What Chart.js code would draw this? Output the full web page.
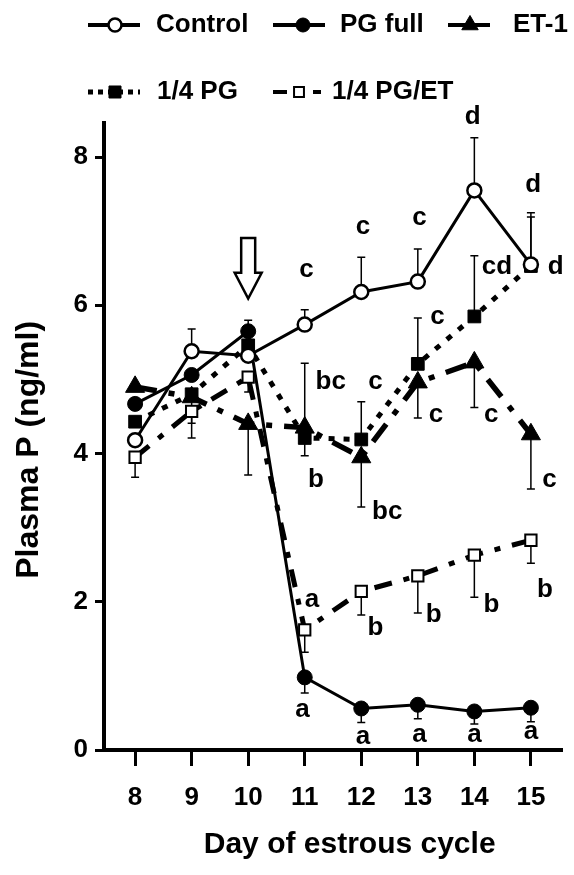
<!DOCTYPE html>
<html>
<head>
<meta charset="utf-8">
<script src="https://cdn.jsdelivr.net/npm/chart.js@4.4.1/dist/chart.umd.min.js"></script>
<style>
  body { margin: 0; background: #fff; }
  canvas { display: block; }
</style>
</head>
<body>
<canvas id="plasmaChart" width="574" height="875"></canvas>
<script>
const days = [8, 9, 10, 11, 12, 13, 14, 15];
const xTicks = [8, 9, 10, 11, 12, 13, 14, 15];
const yTicks = [0, 2, 4, 6, 8];

const control = [4.18, 5.38, 5.32, 5.74, 6.18, 6.32, 7.55, 6.55];
const pgFull = [4.67, 5.06, 5.65, 0.98, 0.56, 0.61, 0.52, 0.57];
const et1 = [4.90, 4.76, 4.40, 4.35, 3.95, 4.96, 5.23, 4.26];
const quarterPG = [4.43, 4.80, 5.46, 4.21, 4.19, 5.21, 5.85, 6.53];
const quarterPGET = [3.95, 4.57, 5.03, 1.62, 2.14, 2.35, 2.63, 2.83];

// ends of the error bars (null = no bar visible)
const controlErrHigh = [null, 5.68, null, 5.94, 6.65, 6.76, 8.26, 7.19];
const pgFullErrHigh = [null, null, 5.80, null, null, null, null, null];
const pgFullErrLow = [null, null, null, 0.77, 0.37, 0.42, 0.35, 0.38];
const et1ErrHigh = [null, null, null, 5.22, null, null, null, null];
const et1ErrLow = [null, null, 3.71, null, 3.28, 4.48, 4.62, 3.52];
const quarterPGErrHigh = [null, null, null, null, 4.70, 5.83, 6.67, 7.25];
const quarterPGErrLow = [null, 4.41, null, 3.97, null, null, null, null];
const quarterPGETErrLow = [3.68, 4.21, 4.83, 1.32, 1.82, 1.85, 2.06, 2.52];

// significance letters: [day, value, text]
const sigLetters = [
  [13.97, 8.54, "d"], [15.04, 7.62, "d"],
  [11.03, 6.48, "c"], [12.03, 7.06, "c"], [13.03, 7.18, "c"],
  [14.40, 6.52, "cd"], [15.44, 6.52, "d"], [13.35, 5.84, "c"],
  [11.46, 4.97, "bc"], [12.25, 4.97, "c"], [13.32, 4.52, "c"], [14.30, 4.52, "c"],
  [15.33, 3.64, "c"], [11.20, 3.64, "b"], [12.46, 3.21, "bc"],
  [11.13, 2.02, "a"], [12.25, 1.65, "b"], [13.28, 1.82, "b"], [14.30, 1.96, "b"], [15.25, 2.16, "b"],
  [10.96, 0.54, "a"], [12.03, 0.18, "a"], [13.03, 0.20, "a"], [14.00, 0.20, "a"], [15.00, 0.24, "a"]
];

const arrowDay = 10;
const arrowTop = 6.91;
const arrowHeadBase = 6.44;
const arrowTip = 6.09;

const FONT = "'Liberation Sans', Arial, sans-serif";

function pts(values) {
  return days.map((d, i) => ({ x: d, y: values[i] }));
}

const datasets = [
  {
    label: "Control", data: pts(control),
    borderColor: "#000", borderWidth: 3,
    pointStyle: "circle", pointRadius: 7, pointBackgroundColor: "#fff", pointBorderColor: "#000", pointBorderWidth: 2.5,
    errHigh: controlErrHigh, errLow: []
  },
  {
    label: "PG full", data: pts(pgFull),
    borderColor: "#000", borderWidth: 3,
    pointStyle: "circle", pointRadius: 7.5, pointBackgroundColor: "#000", pointBorderColor: "#000", pointBorderWidth: 1,
    errHigh: pgFullErrHigh, errLow: pgFullErrLow
  },
  {
    label: "ET-1", data: pts(et1),
    borderColor: "#000", borderWidth: 5.5, borderDash: [22, 12, 6, 12],
    pointStyle: "triangle", pointRadius: 11, pointBackgroundColor: "#000", pointBorderColor: "#000", pointBorderWidth: 1,
    errHigh: et1ErrHigh, errLow: et1ErrLow
  },
  {
    label: "1/4 PG", data: pts(quarterPG),
    borderColor: "#000", borderWidth: 5, borderDash: [6, 9],
    pointStyle: "rect", pointRadius: 9, pointBackgroundColor: "#000", pointBorderColor: "#000", pointBorderWidth: 1,
    errHigh: quarterPGErrHigh, errLow: quarterPGErrLow
  },
  {
    label: "1/4 PG/ET", data: pts(quarterPGET),
    borderColor: "#000", borderWidth: 5, borderDash: [18, 12, 6, 12],
    pointStyle: "rect", pointRadius: 8, pointBackgroundColor: "#fff", pointBorderColor: "#000", pointBorderWidth: 2,
    errHigh: [], errLow: quarterPGETErrLow
  }
];

const errorBars = {
  id: "errorBars",
  beforeDatasetsDraw(chart) {
    const { ctx, scales: { x, y } } = chart;
    ctx.save();
    ctx.strokeStyle = "#000";
    ctx.lineWidth = 1.5;
    chart.data.datasets.forEach(ds => {
      [ds.errHigh, ds.errLow].forEach(ends => {
        ends.forEach((end, i) => {
          if (end == null) return;
          const px = x.getPixelForValue(ds.data[i].x);
          const py0 = y.getPixelForValue(ds.data[i].y);
          const py1 = y.getPixelForValue(end);
          ctx.beginPath();
          ctx.moveTo(px, py0);
          ctx.lineTo(px, py1);
          ctx.moveTo(px - 4, py1);
          ctx.lineTo(px + 4, py1);
          ctx.stroke();
        });
      });
    });
    ctx.restore();
  }
};

const annotations = {
  id: "annotations",
  afterDraw(chart) {
    const { ctx, scales: { x, y } } = chart;
    ctx.save();
    ctx.fillStyle = "#000";
    ctx.font = "bold 26px " + FONT;
    ctx.textAlign = "center";
    ctx.textBaseline = "middle";
    sigLetters.forEach(([d, v, t]) => {
      ctx.fillText(t, x.getPixelForValue(d), y.getPixelForValue(v));
    });

    // open arrow above day 10
    const ax = x.getPixelForValue(arrowDay);
    const yTop = y.getPixelForValue(arrowTop);
    const yBase = y.getPixelForValue(arrowHeadBase);
    const yTip = y.getPixelForValue(arrowTip);
    ctx.beginPath();
    ctx.moveTo(ax - 7, yTop);
    ctx.lineTo(ax + 7, yTop);
    ctx.lineTo(ax + 7, yBase);
    ctx.lineTo(ax + 13.5, yBase);
    ctx.lineTo(ax, yTip);
    ctx.lineTo(ax - 13.5, yBase);
    ctx.lineTo(ax - 7, yBase);
    ctx.closePath();
    ctx.fillStyle = "#fff";
    ctx.fill();
    ctx.lineWidth = 2.5;
    ctx.strokeStyle = "#000";
    ctx.stroke();
    ctx.restore();
  }
};

const legendItems = [
  { ds: 0, segs: [[88, 140]], mx: 115, y: 25, tx: 156, r: 6.5 },
  { ds: 1, segs: [[273, 325]], mx: 303, y: 25, tx: 340, r: 7 },
  { ds: 2, segs: [[448, 490]], mx: 470, y: 25, tx: 513, r: 9.5 },
  { ds: 3, segs: [[88, 140]], mx: 115, y: 92, tx: 157, r: 8.5 },
  { ds: 4, segs: [[273, 287], [313, 321]], mx: 299, y: 92, tx: 332, r: 7 }
];

const customLegend = {
  id: "customLegend",
  afterDraw(chart) {
    const { ctx } = chart;
    ctx.save();
    legendItems.forEach(item => {
      const ds = chart.data.datasets[item.ds];
      ctx.strokeStyle = "#000";
      ctx.lineWidth = item.ds === 3 ? 5 : 4;
      ctx.setLineDash(item.ds === 3 ? [5, 5] : []);
      item.segs.forEach(([a, b]) => {
        ctx.beginPath();
        ctx.moveTo(a, item.y);
        ctx.lineTo(b, item.y);
        ctx.stroke();
      });
      ctx.setLineDash([]);
      ctx.fillStyle = ds.pointBackgroundColor;
      ctx.lineWidth = ds.pointBorderWidth;
      Chart.helpers.drawPoint(ctx, {
        pointStyle: ds.pointStyle, radius: item.r, borderWidth: ds.pointBorderWidth, rotation: 0
      }, item.mx, item.y);
      ctx.fillStyle = "#000";
      ctx.font = "bold 26px " + FONT;
      ctx.textAlign = "left";
      ctx.textBaseline = "middle";
      ctx.fillText(ds.label, item.tx, item.y);
    });
    ctx.restore();
  }
};

new Chart(document.getElementById("plasmaChart").getContext("2d"), {
  type: "line",
  data: { datasets },
  options: {
    responsive: false,
    animation: false,
    layout: { padding: { top: 123, right: 0, left: 0, bottom: 0 } },
    plugins: {
      legend: { display: false },
      tooltip: { enabled: false }
    },
    elements: { line: { tension: 0 } },
    scales: {
      x: {
        type: "linear",
        min: 7.45,
        max: 15.55,
        afterBuildTicks: s => { s.ticks = xTicks.map(v => ({ value: v })); },
        afterFit: s => { s.height = 125; },
        grid: { display: true, drawOnChartArea: false, drawTicks: true, tickLength: 16, tickWidth: 3, tickColor: "#000" },
        border: { display: true, color: "#000", width: 4 },
        ticks: { color: "#000", padding: 16, maxRotation: 0, font: { family: FONT, size: 26, weight: "bold" } },
        title: {
          display: true, text: "    Day of estrous cycle", color: "#000",
          font: { family: FONT, size: 30, weight: "bold" }, padding: { top: 0, bottom: 12 }
        }
      },
      y: {
        min: 0,
        max: 8.46,
        afterBuildTicks: s => { s.ticks = yTicks.map(v => ({ value: v })); },
        afterFit: s => { s.width = 104; },
        grid: { display: true, drawOnChartArea: false, drawTicks: true, tickLength: 9, tickWidth: 3, tickColor: "#000" },
        border: { display: true, color: "#000", width: 4 },
        ticks: { color: "#000", padding: 7, font: { family: FONT, size: 26, weight: "bold" } },
        title: {
          display: true, text: "Plasma P (ng/ml)   ", color: "#000",
          font: { family: FONT, size: 32, weight: "bold" }, padding: { top: 10, bottom: 0 }
        }
      }
    }
  },
  plugins: [errorBars, annotations, customLegend]
});
</script>
</body>
</html>
